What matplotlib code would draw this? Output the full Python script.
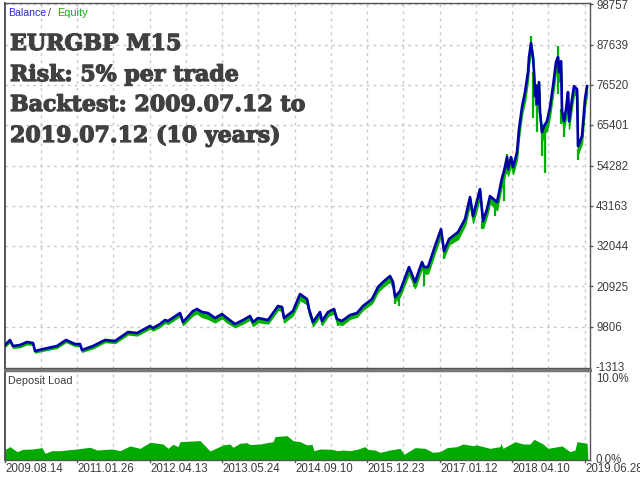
import matplotlib
matplotlib.use("Agg")
import matplotlib.pyplot as plt
import matplotlib.patheffects as pe
import numpy as np
from matplotlib.transforms import Bbox

TRADES = [0, 5, 8, 15, 22, 28, 30, 38, 52, 61, 70, 75, 77, 88, 100, 110, 123, 132, 145, 148,
          155, 160, 163, 175, 178, 188, 192, 197, 203, 210, 217, 222, 230, 238, 245, 248, 253, 263, 273, 277,
          279, 288, 295, 302, 304, 308, 315, 317, 323, 329, 332, 337, 345, 352, 358, 367, 373, 378, 385, 388,
          390, 395, 404, 410, 417, 419, 423, 430, 436, 439, 444, 453, 460, 465, 468, 475, 478, 482, 485, 492,
          497, 499, 502, 503, 506, 508, 511, 512, 514, 517, 520, 523, 524, 526, 528, 529, 530, 531, 532, 534,
          535, 537, 539, 542, 545, 548, 551, 553, 554, 556, 557, 559, 561, 563, 564, 567, 569, 572, 573, 577,
          580, 582]
BALANCE = [4760, 6140, 4480, 4760, 5590, 5310, 3100, 3650, 4480, 6140, 5030, 5030, 3380, 4480, 6140, 5860, 8340, 8070, 10000, 9450,
           10550, 11650, 11380, 13590, 11100, 14140, 14690, 13860, 13590, 12210, 13310, 12210, 10550, 11650, 12760, 11100, 12210, 11650, 15520, 15240,
           12210, 14140, 18830, 17450, 14690, 11100, 13860, 11380, 13860, 14690, 11930, 11380, 13030, 13590, 15520, 17450, 20760, 22140, 23790, 22140,
           18000, 19660, 26280, 22140, 27660, 26280, 26280, 32070, 36760, 30690, 34000, 35930, 39520, 45590, 40350, 47800, 38970, 42280, 45870, 44210,
           50830, 52760, 56630, 53320, 56630, 53870, 56900, 58010, 64350, 70420, 74560, 80080, 84220, 88080, 84220, 80080, 73460, 76220, 71250, 77320,
           69040, 63520, 65180, 66560, 70420, 76220, 82840, 84220, 80080, 83110, 69320, 66560, 69870, 74560, 66560, 72630, 76220, 75390, 59660, 62420,
           72630, 76220]
EQUITY = [4300, 5600, 4000, 4200, 5000, 4800, 2700, 3200, 4000, 5600, 4500, 4500, 2900, 3900, 5600, 5300, 7700, 7400, 9300, 8800,
          9800, 10900, 10600, 12800, 10300, 13000, 13500, 12500, 12000, 11000, 12200, 11000, 9700, 10700, 11800, 10000, 11100, 10700, 14500, 14200,
          11000, 13000, 17200, 16000, 13300, 10000, 12700, 10300, 12800, 13500, 10700, 10300, 12000, 12600, 14500, 16300, 19500, 20800, 22300, 20500,
          16800, 18200, 24500, 20500, 26000, 24500, 24500, 30300, 35000, 29000, 32500, 34000, 37800, 43500, 38500, 45500, 37000, 40500, 44000, 42000,
          49000, 50500, 54500, 51500, 54500, 52000, 55000, 56000, 62000, 68500, 72000, 78000, 82000, 86000, 82000, 78000, 71000, 74000, 69000, 75000,
          66500, 61000, 63000, 64000, 68000, 74000, 80500, 82000, 77500, 81000, 67000, 64500, 67500, 72000, 64500, 70500, 74000, 73500, 57500, 60500,
          70500, 74000]

SPIKE_TRADES = [317, 333, 390, 394, 409, 419, 439, 460, 477, 490, 499, 502, 526, 528, 532, 537, 540, 553, 556, 559, 573]
SPIKE_TOPS = [11380, 11930, 18000, 19660, 22140, 26280, 30690, 39520, 38970, 44210, 51380, 57450, 90010, 80080, 76770, 64350, 65000, 87250, 70000, 67110, 58830]
SPIKE_LOWS = [10280, 10000, 16070, 15520, 20760, 21040, 28480, 37590, 36760, 40350, 44490, 52000, 86420, 67390, 63520, 56900, 52210, 74010, 65730, 62140, 55800]

LOAD_TRADES = [-1, 5, 12, 18, 28, 37, 40, 47, 55, 72, 85, 92, 107, 115, 125, 135, 145, 158, 163, 168,
               173, 175, 195, 205, 218, 225, 228, 235, 242, 245, 255, 262, 268, 270, 282, 288, 295,
               302, 307, 309, 315, 327, 332, 338, 345, 352, 360, 363, 370, 375, 385, 395, 399, 410, 420,
               428, 435, 442, 452, 458, 468, 472, 485, 495, 496, 498, 510, 518, 525, 529, 538, 543, 557, 565, 570, 572, 582, 583]
LOAD = [1.12, 1.5, 0.94, 1.2, 1.24, 1.39, 0.75, 1.05, 1.05, 1.24, 1.43, 1.12, 1.24, 1.05, 1.58, 1.31, 1.99, 1.8, 1.31, 1.76,
        1.5, 2.06, 2.18, 1.01, 1.69, 1.8, 1.43, 1.88, 1.95, 1.73, 1.8, 1.95, 2.06, 2.63, 2.74, 2.18, 2.06,
        1.69, 1.76, 1.05, 1.24, 1.2, 1.05, 1.12, 1.05, 1.2, 1.5, 1.2, 1.12, 0.86, 1.12, 1.31, 0.64, 1.39, 1.31,
        0.86, 0.94, 1.39, 1.5, 1.8, 1.61, 1.69, 1.31, 1.5, 1.88, 1.31, 2.06, 1.8, 1.8, 2.33, 1.8, 1.31, 1.58, 0.94, 1.12, 2.06, 1.88, 0.0]

Y_TICKS = [98757, 87639, 76520, 65401, 54282, 43163, 32044, 20925, 9806]
Y_BOTTOM_LABEL = "-1313"
DATE_LABELS = ["2009.08.14", "2011.01.26", "2012.04.13", "2013.05.24", "2014.09.10",
               "2015.12.23", "2017.01.12", "2018.04.10", "2019.06.28"]
TITLE_LINES = ["EURGBP M15", "Risk: 5% per trade", "Backtest: 2009.07.12 to", "2019.07.12 (10 years)"]

W, H = 640, 480
BLUE = "#0000aa"
GREEN = "#00b000"
FILL = "#00aa00"
EDGE = "#555555"
TEXT = "#3c3c3c"
GRID = "#c8c8c8"

plt.rcParams["font.family"] = ["Liberation Sans", "DejaVu Sans"]
plt.rcParams["font.size"] = 8.3

fig = plt.figure(figsize=(W / 100, H / 100), dpi=100, facecolor="white")


def pixel_axes(left, top, right, bottom):
    return fig.add_axes([left / W, 1 - bottom / H, (right - left) / W, (bottom - top) / H])


top_ax = pixel_axes(4.5, 3, 589.5, 368)
low_ax = pixel_axes(4.5, 371, 589.5, 460)

x_grid = -0.5 + 36.25 * np.arange(1, 17)
x_major = -0.5 + 72.5 * np.arange(0, 9)

for ax in (top_ax, low_ax):
    ax.set_xlim(-0.5, 584.5)
    for x in x_grid:
        ax.axvline(x, color=GRID, lw=1, ls=(0, (2, 3)), zorder=0)
    for side in ("left", "right", "top", "bottom"):
        ax.spines[side].set_color(EDGE)
        ax.spines[side].set_linewidth(1)
    ax.spines["left"].set_linewidth(1.4)
    ax.set_yticks([])
    ax.set_xticks([])

top_ax.set_ylim(-1590, 99170)
for y in Y_TICKS:
    top_ax.axhline(y, color=GRID, lw=1, ls=(0, (2, 3)), zorder=0)

top_ax.fill_between(TRADES, EQUITY, BALANCE, color=GREEN, lw=1, zorder=2)
top_ax.vlines(SPIKE_TRADES, SPIKE_LOWS, SPIKE_TOPS, color=GREEN, lw=1.6, zorder=2)
top_ax.plot(TRADES, BALANCE, color=BLUE, lw=1.9, solid_joinstyle="round", zorder=3)

low_ax.set_ylim(0, 10)
low_ax.fill_between(LOAD_TRADES, 0, LOAD, color=FILL, lw=0, zorder=2)

# separator between the panels
fig.add_artist(plt.Line2D([4.5 / W, 589.5 / W], [1 - 369.5 / H] * 2, color="#777777", lw=2.2))

# right scale labels
top_ax.set_yticks(Y_TICKS)
top_ax.set_yticklabels([])
top_ax.yaxis.tick_right()
top_ax.tick_params(axis="y", length=2.5, width=1, color=EDGE)
for y in Y_TICKS:
    top_ax.annotate(str(y), (1, y), xycoords=("axes fraction", "data"), xytext=(4.8, -0.8),
                    textcoords="offset points", va="center", ha="left", color=TEXT, annotation_clip=False)
clipped = fig.text(596 / W, 1 - 368 / H, Y_BOTTOM_LABEL, va="center", ha="left", color=TEXT)
clipped.set_clip_box(Bbox([[590, H - 372], [W, H]]))
clipped.set_clip_on(True)
fig.text(596 / W, 1 - 379 / H, "10.0%", va="center", ha="left", color=TEXT)
fig.text(596 / W, 1 - 460 / H, "0.0%", va="center", ha="left", color=TEXT)

# date labels and tick marks below the lower panel
for x, label in zip(x_major, DATE_LABELS):
    low_ax.plot([x, x], [0, -0.25], color=EDGE, lw=1, clip_on=False, zorder=1)
    low_ax.annotate(label, (x, 0), xycoords=("data", "axes fraction"), xytext=(0.5, -6.8),
                    textcoords="offset points", va="center", ha="left", color=TEXT, annotation_clip=False)
low_ax.set_ylim(0, 10)

# header labels
fig.text(8 / W, 1 - 13 / H, "Balance", color="#2a2ad0", va="center", ha="left", fontsize=7.6)
fig.text(48 / W, 1 - 13 / H, "/", color=TEXT, va="center", ha="left", fontsize=7.6)
fig.text(57 / W, 1 - 13 / H, "Equity", color="#10b010", va="center", ha="left", fontsize=7.9)
fig.text(8 / W, 1 - 381 / H, "Deposit Load", color=TEXT, va="center", ha="left", fontsize=7.8)

# big caption over the equity curve
for line, baseline in zip(TITLE_LINES, [50, 81, 111, 142]):
    fig.text(10 / W, 1 - baseline / H, line, color="#404040", family="DejaVu Serif", weight="bold",
             fontsize=15.9, va="baseline", ha="left",
             path_effects=[pe.withStroke(linewidth=0.9, foreground="#404040")])

fig.savefig("out.png", dpi=100, facecolor="white")
